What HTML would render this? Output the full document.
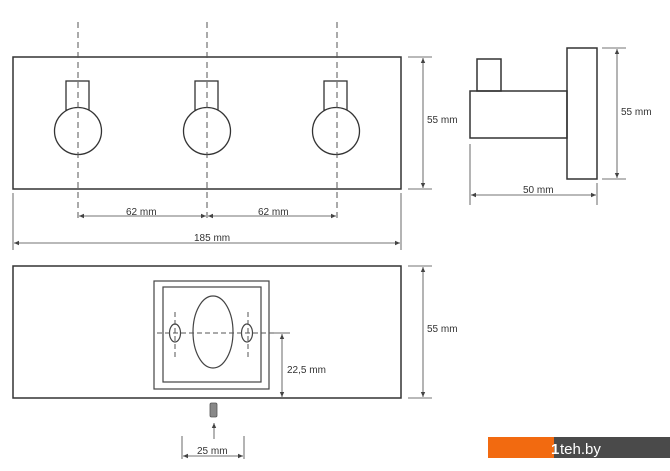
<!DOCTYPE html>
<html><head><meta charset="utf-8"><style>
html,body{margin:0;padding:0;background:#fff;width:670px;height:471px;overflow:hidden}
svg{display:block}
text{font-family:"Liberation Sans",sans-serif;font-size:10px;fill:#333}
</style></head><body>
<svg width="670" height="471" viewBox="0 0 670 471" xmlns="http://www.w3.org/2000/svg">
<defs>
<marker id="a" markerWidth="6" markerHeight="6" refX="5" refY="3" orient="auto-start-reverse" markerUnits="userSpaceOnUse"><path d="M0,0.8 L5,3 L0,5.2" fill="#444" stroke="none"/></marker>
</defs>
<g fill="none" stroke="#333" stroke-width="1.5">
<rect x="13" y="57" width="388" height="132"/>
<g stroke-width="1.3">
<rect x="66" y="81" width="23" height="29"/><circle cx="78" cy="131" r="23.5" fill="#fff"/>
<rect x="195" y="81" width="23" height="29"/><circle cx="207" cy="131" r="23.5" fill="#fff"/>
<rect x="324" y="81" width="23" height="29"/><circle cx="336" cy="131" r="23.5" fill="#fff"/>
</g>
</g>
<g stroke="#555" stroke-width="1" stroke-dasharray="6,4" fill="none">
<line x1="78" y1="22" x2="78" y2="222"/><line x1="207" y1="22" x2="207" y2="222"/><line x1="337" y1="22" x2="337" y2="222"/>
</g>
<g stroke="#444" stroke-width="0.8" fill="none">
<line x1="408" y1="57" x2="432" y2="57"/><line x1="408" y1="189" x2="432" y2="189"/>
<line x1="423" y1="58" x2="423" y2="188" marker-start="url(#a)" marker-end="url(#a)"/>
<line x1="79" y1="216" x2="206" y2="216" marker-start="url(#a)" marker-end="url(#a)"/>
<line x1="208" y1="216" x2="336" y2="216" marker-start="url(#a)" marker-end="url(#a)"/>
<line x1="13" y1="193" x2="13" y2="250"/><line x1="401" y1="193" x2="401" y2="250"/>
<line x1="14" y1="243" x2="400" y2="243" marker-start="url(#a)" marker-end="url(#a)"/>
</g>
<text x="427" y="123">55 mm</text>
<text x="126" y="215">62 mm</text>
<text x="258" y="215">62 mm</text>
<text x="194" y="241">185 mm</text>

<g fill="none" stroke="#333" stroke-width="1.5">
<rect x="567" y="48" width="30" height="131"/>
<rect x="470" y="91" width="97" height="47"/>
<rect x="477" y="59" width="24" height="32"/>
</g>
<g stroke="#444" stroke-width="0.8" fill="none">
<line x1="602" y1="48" x2="626" y2="48"/><line x1="602" y1="179" x2="626" y2="179"/>
<line x1="617" y1="49" x2="617" y2="178" marker-start="url(#a)" marker-end="url(#a)"/>
<line x1="470" y1="144" x2="470" y2="205"/><line x1="597" y1="183" x2="597" y2="205"/>
<line x1="471" y1="195" x2="596" y2="195" marker-start="url(#a)" marker-end="url(#a)"/>
</g>
<text x="621" y="115">55 mm</text>
<text x="523" y="193">50 mm</text>

<g fill="none" stroke="#333" stroke-width="1.5">
<rect x="13" y="266" width="388" height="132"/>
</g>
<g fill="none" stroke="#444" stroke-width="1.2">
<rect x="154" y="281" width="115" height="108"/>
<rect x="163" y="287" width="98" height="95"/>
<ellipse cx="213" cy="332" rx="20" ry="36"/>
<ellipse cx="175" cy="333" rx="5.5" ry="9"/>
<ellipse cx="247" cy="333" rx="5.5" ry="9"/>
</g>
<g stroke="#555" stroke-width="1" stroke-dasharray="5,3" fill="none">
<line x1="157" y1="333" x2="276" y2="333"/>
<line x1="175" y1="312" x2="175" y2="358"/><line x1="248" y1="312" x2="248" y2="358"/>
</g>
<g stroke="#444" stroke-width="0.8" fill="none">
<line x1="274" y1="333" x2="290" y2="333"/>
<line x1="282" y1="334" x2="282" y2="397" marker-start="url(#a)" marker-end="url(#a)"/>
<line x1="408" y1="266" x2="432" y2="266"/><line x1="408" y1="398" x2="432" y2="398"/>
<line x1="423" y1="267" x2="423" y2="397" marker-start="url(#a)" marker-end="url(#a)"/>
<line x1="214" y1="439" x2="214" y2="423" marker-end="url(#a)"/>
<line x1="182" y1="436" x2="182" y2="459"/><line x1="244" y1="436" x2="244" y2="459"/>
<line x1="183" y1="456" x2="243" y2="456" marker-start="url(#a)" marker-end="url(#a)"/>
</g>
<rect x="210" y="403" width="7" height="14" rx="1.5" fill="#888" stroke="#555" stroke-width="0.8"/>
<text x="287" y="373">22,5 mm</text>
<text x="427" y="332">55 mm</text>
<text x="197" y="454">25 mm</text>

<rect x="488" y="437" width="66" height="21" fill="#f26a10"/>
<rect x="554" y="437" width="116" height="21" fill="#4a4a4a"/>
<text x="551" y="454" style="font-size:15px;font-weight:bold;fill:#fff">1</text>
<text x="560" y="454" style="font-size:15px;fill:#fff">teh.by</text>
</svg>
</body></html>
